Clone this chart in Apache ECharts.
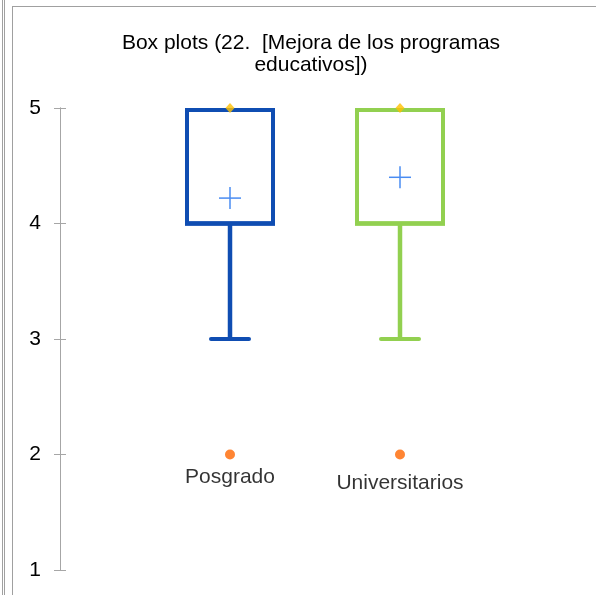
<!DOCTYPE html>
<html>
<head>
<meta charset="utf-8">
<script src="https://cdn.jsdelivr.net/npm/echarts@6/dist/echarts.min.js"></script>
<style>
  html, body { margin: 0; padding: 0; background: #fff; }
  #box { width: 596px; height: 595px; }
</style>
</head>
<body>
<div id="box"></div>
<script>
// 数据
const categories = ['Posgrado', 'Universitarios']
const whiskerLow = [3, 3]
const q1 = [4, 4]
const median = [4, 4]
const q3 = [5, 5]
const whiskerHigh = [5, 5]
const means = [4.22, 4.4]
const minima = [2, 2]
const maxima = [5, 5]
const yTicks = [1, 2, 3, 4, 5]

const boxColors = ['#0F4DB2', '#92D050']
const font = 'Liberation Sans, Arial, sans-serif'

const myChart = echarts.init(document.getElementById('box'))

const boxData = categories.map((c, i) => [i + 1, whiskerLow[i], q1[i], median[i], q3[i], whiskerHigh[i], means[i]])

function renderBox(params, api) {
  const x = api.value(0)
  const color = boxColors[params.dataIndex]
  const pLow = api.coord([x, api.value(1)])
  const pQ1 = api.coord([x, api.value(2)])
  const pMed = api.coord([x, api.value(3)])
  const pQ3 = api.coord([x, api.value(4)])
  const pHigh = api.coord([x, api.value(5)])
  const pMean = api.coord([x, api.value(6)])
  const cx = pQ1[0]
  const halfBox = 43 // 箱体半宽
  const halfCap = 19 // 须线端点半宽
  const arm = 11 // 均值十字
  const line = { stroke: color, lineWidth: 4, fill: null }
  return {
    type: 'group',
    children: [
      { type: 'line', shape: { x1: cx, y1: pLow[1], x2: cx, y2: pQ1[1] }, style: { stroke: color, lineWidth: 4.5 } },
      { type: 'line', shape: { x1: cx, y1: pQ3[1], x2: cx, y2: pHigh[1] }, style: { stroke: color, lineWidth: 4.5 } },
      { type: 'line', shape: { x1: cx - halfCap, y1: pLow[1], x2: cx + halfCap, y2: pLow[1] }, style: { stroke: color, lineWidth: 4, lineCap: 'round' } },
      { type: 'rect', shape: { x: cx - halfBox, y: pQ3[1] + 2, width: halfBox * 2, height: pQ1[1] - pQ3[1] - 2 }, style: line },
      { type: 'line', shape: { x1: cx - halfBox - 2, y1: pMed[1], x2: cx + halfBox + 2, y2: pMed[1] }, style: { stroke: color, lineWidth: 4.5 } },
      { type: 'line', shape: { x1: cx - arm, y1: pMean[1], x2: cx + arm, y2: pMean[1] }, style: { stroke: '#4A8CF2', lineWidth: 1.5 } },
      { type: 'line', shape: { x1: cx, y1: pMean[1] - arm, x2: cx, y2: pMean[1] + arm }, style: { stroke: '#4A8CF2', lineWidth: 1.5 } }
    ]
  }
}

const yAxisBase = {
  type: 'value',
  min: yTicks[0],
  max: yTicks[yTicks.length - 1],
  interval: 1,
  position: 'left',
  splitLine: { show: false },
  axisLine: { show: true, lineStyle: { color: '#A6A6A6', width: 1 } }
}

myChart.setOption({
  animation: false,
  backgroundColor: '#fff',
  title: {
    text: 'Box plots (22.  [Mejora de los programas\neducativos])',
    left: 306,
    top: 27,
    textAlign: 'center',
    textStyle: {
      fontFamily: font,
      fontSize: 21,
      fontWeight: 'normal',
      color: '#000',
      lineHeight: 22
    }
  },
  graphic: [
    // 外框
    { type: 'rect', shape: { x: 2, y: 0, width: 1, height: 595 }, style: { fill: '#A0A0A0' } },
    { type: 'rect', shape: { x: 4, y: 0, width: 1, height: 595 }, style: { fill: '#A0A0A0' } },
    { type: 'rect', shape: { x: 12, y: 6, width: 1, height: 589 }, style: { fill: '#A0A0A0' } },
    { type: 'rect', shape: { x: 12, y: 6, width: 584, height: 1 }, style: { fill: '#A0A0A0' } }
  ],
  grid: {
    left: 60,
    right: 26,
    top: 108,
    bottom: 25
  },
  xAxis: {
    type: 'value',
    min: 0,
    max: 3,
    show: false
  },
  yAxis: [
    Object.assign({}, yAxisBase, {
      axisTick: { show: true, length: 6, lineStyle: { color: '#A6A6A6' } },
      axisLabel: { margin: 19, fontFamily: font, fontSize: 21, color: '#000' }
    }),
    Object.assign({}, yAxisBase, {
      axisTick: { show: true, inside: true, length: 6, lineStyle: { color: '#A6A6A6' } },
      axisLabel: { show: false }
    })
  ],
  series: [
    {
      name: 'box',
      type: 'custom',
      renderItem: renderBox,
      data: boxData,
      z: 2
    },
    {
      name: 'max',
      type: 'scatter',
      symbol: 'diamond',
      symbolSize: [9, 10],
      itemStyle: { color: '#FFC000' },
      data: maxima.map((v, i) => [i + 1, v]),
      z: 3
    },
    {
      name: 'min',
      type: 'scatter',
      symbol: 'circle',
      symbolSize: 10,
      itemStyle: { color: '#FF6600' },
      data: minima.map((v, i) => ({
        value: [i + 1, v],
        label: { distance: i === 0 ? 7 : 13 }
      })),
      label: {
        show: true,
        position: 'bottom',
        formatter: p => categories[p.dataIndex],
        fontFamily: font,
        fontSize: 21,
        color: '#000'
      },
      z: 3
    }
  ]
})
</script>
</body>
</html>
